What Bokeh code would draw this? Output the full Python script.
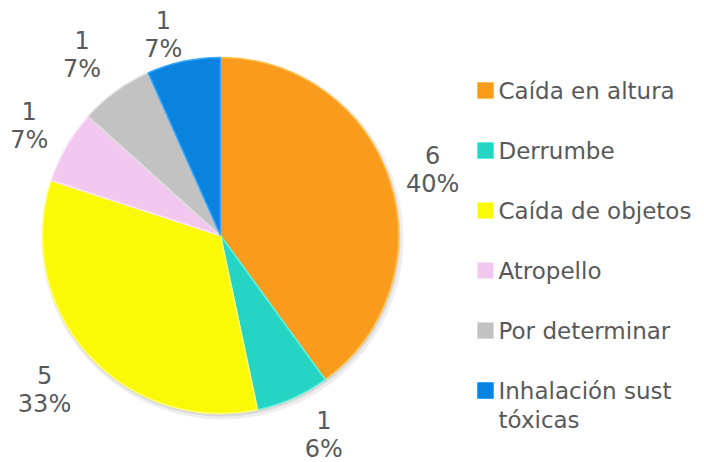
import numpy as np
from bokeh.plotting import figure
from bokeh.models import Range1d, ColumnDataSource
from bokeh.core.properties import value
from bokeh.embed import file_html
from bokeh.resources import INLINE

# ---- data ----
categories = ["Caída en altura", "Derrumbe", "Caída de objetos", "Atropello",
              "Por determinar", "Inhalación sust tóxicas"]
counts = [6, 1, 5, 1, 1, 1]
pct_labels = ["40%", "6%", "33%", "7%", "7%", "7%"]
legend_labels = ["Caída en altura", "Derrumbe", "Caída de objetos", "Atropello",
                 "Por determinar", "Inhalación sust\ntóxicas"]

# ---- styles ----
colors = ["#F99B1C", "#25D4C2", "#FAFA08", "#F2C8F0", "#C2C2C2", "#0A83DE"]
edge_colors = ["#FFC04A", "#5AF0E0", "#FFFF70", "#FBE3FA", "#DCDCDC", "#35A8FF"]

# ---- layout ----
W, H = 704, 462
FONT = "DejaVu Sans"
TXT = "#595959"
cx, cy, r = 220, H - 235, 178
r_label = 222
# small pixel nudges of the data labels (screen x right, screen y down)
label_nudge_x = [1, 13, -11, 1, -8, -11]
label_nudge_y = [3, -4, 5, 1, -1, 16]

p = figure(width=W, height=H, output_backend="svg", toolbar_location=None,
           x_range=Range1d(0, W), y_range=Range1d(0, H), min_border=0)
p.axis.visible = False
p.grid.visible = False
p.outline_line_color = None
p.background_fill_color = "white"
p.border_fill_color = "white"

vals = np.array(counts, dtype=float)
fr = vals / vals.sum()
cum_end = np.cumsum(fr)
cum_start = cum_end - fr
start = np.pi / 2 - cum_start * 2 * np.pi
end = np.pi / 2 - cum_end * 2 * np.pi
mid_top = (cum_start + fr / 2) * 2 * np.pi  # clockwise from top

# soft shadow
p.circle(x=[cx + 2], y=[cy - 3], radius=r + 3, fill_color="#BBBBBB",
         fill_alpha=0.25, line_color=None)
p.circle(x=[cx + 1], y=[cy - 2], radius=r + 1, fill_color="#AAAAAA",
         fill_alpha=0.3, line_color=None)

src = ColumnDataSource(dict(start=start, end=end, color=colors, edge=edge_colors))
p.wedge(x=cx, y=cy, radius=r, start_angle="start", end_angle="end",
        direction="clock", fill_color="color", line_color="edge",
        line_width=1.5, source=src)

lx = cx + r_label * np.sin(mid_top) + np.array(label_nudge_x)
ly = cy + r_label * np.cos(mid_top) - np.array(label_nudge_y)
lab = ColumnDataSource(dict(x=lx, y_top=ly + 14.5, y_bot=ly - 14.5,
                            cnt=[str(c) for c in counts], pct=pct_labels))
for col, ycol in (("cnt", "y_top"), ("pct", "y_bot")):
    p.text(x="x", y=ycol, text=col, source=lab, text_font=value(FONT),
           text_font_size="24px", text_color=TXT, text_align="center",
           text_baseline="middle")

# ---- legend ----
row0, row_step, line_step = 90, 60, 29
sq_x, txt_x = 485, 498
sq_y = [H - (row0 + i * row_step) for i in range(len(categories))]
p.scatter(x=[sq_x] * len(categories), y=sq_y, marker="square", size=16,
          fill_color=colors, line_color=edge_colors, line_width=1)
tx, ty, tt = [], [], []
for yy, lbl in zip(sq_y, legend_labels):
    for k, line in enumerate(lbl.split("\n")):
        tx.append(txt_x)
        ty.append(yy - k * line_step)
        tt.append(line)
p.text(x=tx, y=ty, text=tt, text_font=value(FONT), text_font_size="23px",
       text_color=TXT, text_align="left", text_baseline="middle")

open("out.html", "w").write(file_html(p, INLINE))
